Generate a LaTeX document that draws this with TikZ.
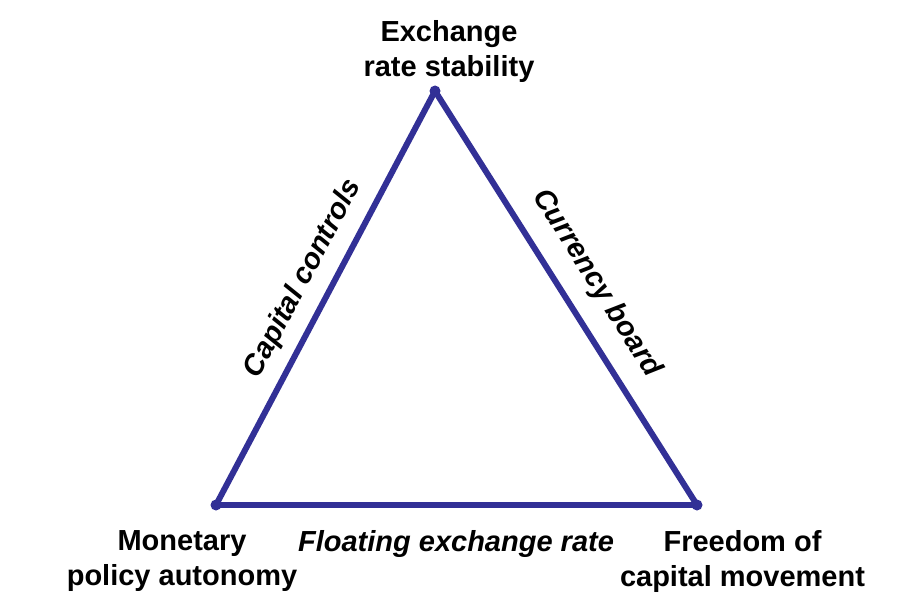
\documentclass[tikz,border=0pt]{standalone}
\usepackage{fontspec}
\setmainfont{Liberation Sans}
\usetikzlibrary{calc}
\definecolor{triblue}{RGB}{50,48,150}
\tikzset{
  vertex/.style={circle,fill=triblue,inner sep=0pt,minimum size=11pt},
  edge/.style={draw=triblue,line width=6pt,line cap=round,line join=round},
  corner/.style={inner sep=0pt,align=center,anchor=north,font=\fontsize{29}{35}\selectfont\bfseries},
  sidelabel/.style={inner sep=0pt,font=\fontsize{29}{35}\selectfont\bfseries\itshape,sloped}
}
\begin{document}
\begin{tikzpicture}[x=1pt,y=-1pt]
\useasboundingbox (0,0) rectangle (898,602);
\fill[white] (0,0) rectangle (898,602);
\coordinate (E) at (435,91);
\coordinate (M) at (216,505);
\coordinate (F) at (697,505);
\draw[edge] (M) -- node[sidelabel,pos=0.514,above=12pt] {Capital controls} (E);
\draw[edge] (E) -- node[sidelabel,pos=0.508,above=17pt] {Currency board} (F);
\draw[edge] (M) -- (F);
\node[vertex] (vE) at (E) {};
\node[vertex] (vM) at (M) {};
\node[vertex] (vF) at (F) {};
\node[corner] (tE) at (449,20) {Exchange\\rate stability};
\node[corner] (tM) at (182,530) {Monetary\\policy autonomy};
\node[corner] (tF) at (742.5,530) {Freedom of\\capital movement};
\node[corner,font=\fontsize{29}{35}\selectfont\bfseries\itshape] (tFl) at (456,530) {Floating exchange rate};
\end{tikzpicture}
\end{document}
